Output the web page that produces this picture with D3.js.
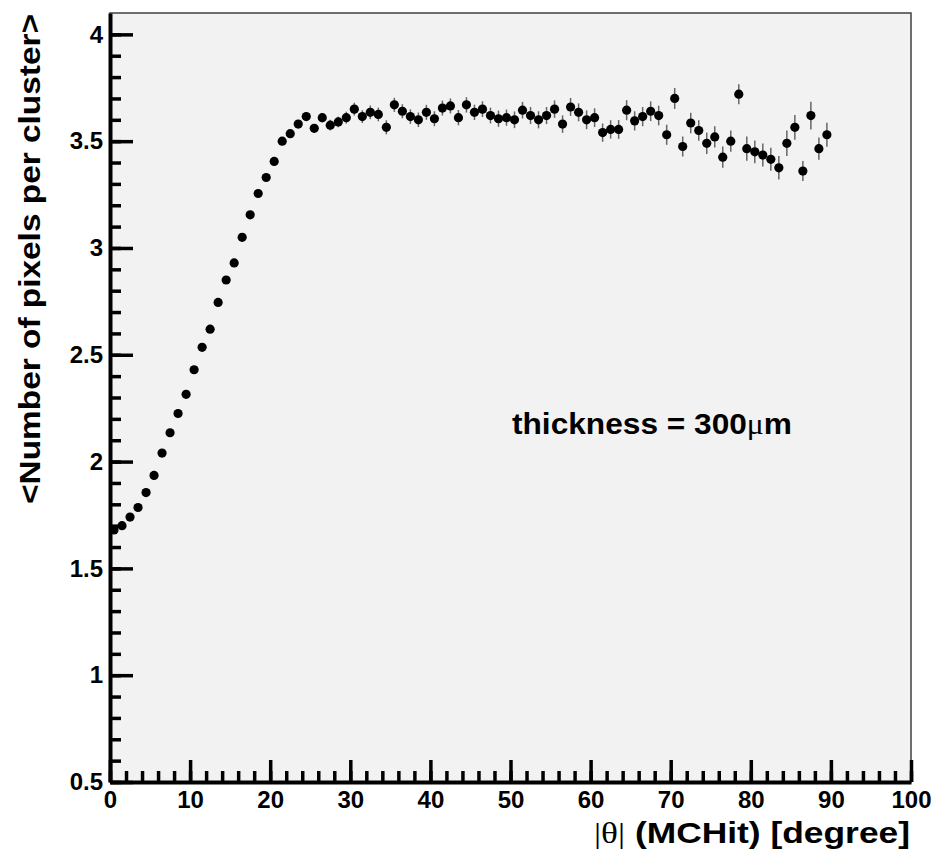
<!DOCTYPE html>
<html>
<head>
<meta charset="utf-8">
<script src="https://cdn.jsdelivr.net/npm/d3@7"></script>
<style>
body { margin: 0; background: #ffffff; }
#plot { width: 933px; height: 852px; }
</style>
</head>
<body>
<div id="plot"></div>
<script>
// bin centres of |theta| (degree)
var thetaBins = [0.5, 1.5, 2.5, 3.5, 4.5, 5.5, 6.5, 7.5, 8.5, 9.5,
	10.5, 11.5, 12.5, 13.5, 14.5, 15.5, 16.5, 17.5, 18.5, 19.5,
	20.5, 21.5, 22.5, 23.5, 24.5, 25.5, 26.5, 27.5, 28.5, 29.5,
	30.5, 31.5, 32.5, 33.5, 34.5, 35.5, 36.5, 37.5, 38.5, 39.5,
	40.5, 41.5, 42.5, 43.5, 44.5, 45.5, 46.5, 47.5, 48.5, 49.5,
	50.5, 51.5, 52.5, 53.5, 54.5, 55.5, 56.5, 57.5, 58.5, 59.5,
	60.5, 61.5, 62.5, 63.5, 64.5, 65.5, 66.5, 67.5, 68.5, 69.5,
	70.5, 71.5, 72.5, 73.5, 74.5, 75.5, 76.5, 77.5, 78.5, 79.5,
	80.5, 81.5, 82.5, 83.5, 84.5, 85.5, 86.5, 87.5, 88.5, 89.5];

// mean number of pixels per cluster
var meanPixels = [1.68, 1.70, 1.74, 1.785, 1.855, 1.935, 2.04, 2.135, 2.225, 2.315,
	2.43, 2.535, 2.62, 2.745, 2.85, 2.93, 3.05, 3.155, 3.255, 3.33,
	3.405, 3.50, 3.535, 3.58, 3.615, 3.56, 3.61, 3.575, 3.59, 3.61,
	3.65, 3.615, 3.635, 3.625, 3.565, 3.67, 3.64, 3.615, 3.60, 3.635,
	3.605, 3.655, 3.665, 3.61, 3.67, 3.635, 3.65, 3.62, 3.605, 3.61,
	3.60, 3.645, 3.62, 3.60, 3.62, 3.65, 3.58, 3.66, 3.635, 3.60,
	3.61, 3.54, 3.555, 3.555, 3.645, 3.595, 3.615, 3.64, 3.62, 3.53,
	3.70, 3.475, 3.585, 3.55, 3.49, 3.52, 3.425, 3.50, 3.72, 3.465,
	3.45, 3.435, 3.415, 3.375, 3.49, 3.565, 3.36, 3.62, 3.465, 3.53];

// error on the mean
var meanErrors = [0.008, 0.008, 0.008, 0.008, 0.008, 0.008, 0.008, 0.008, 0.008, 0.008,
	0.008, 0.008, 0.008, 0.008, 0.008, 0.008, 0.008, 0.008, 0.008, 0.01,
	0.01, 0.015, 0.015, 0.018, 0.02, 0.02, 0.022, 0.025, 0.025, 0.028,
	0.03, 0.03, 0.032, 0.032, 0.033, 0.033, 0.033, 0.034, 0.034, 0.035,
	0.035, 0.035, 0.035, 0.036, 0.036, 0.036, 0.037, 0.037, 0.038, 0.038,
	0.039, 0.039, 0.04, 0.04, 0.04, 0.041, 0.041, 0.042, 0.042, 0.044,
	0.044, 0.043, 0.043, 0.044, 0.047, 0.045, 0.045, 0.046, 0.046, 0.047,
	0.049, 0.047, 0.048, 0.048, 0.05, 0.05, 0.05, 0.05, 0.047, 0.057,
	0.053, 0.054, 0.054, 0.055, 0.06, 0.058, 0.047, 0.065, 0.052, 0.056];

var xTicks = [0, 10, 20, 30, 40, 50, 60, 70, 80, 90, 100];
var yTicks = [0.5, 1, 1.5, 2, 2.5, 3, 3.5, 4];

var width = 933, height = 852;
var frameLeft = 110, frameRight = 911, frameTop = 13, frameBottom = 782;

var svg = d3.select("#plot").append("svg")
	.attr("width", width)
	.attr("height", height)
	.style("font-family", "'Liberation Sans', Arial, Helvetica, sans-serif");

var x = d3.scaleLinear().domain([0, 100]).range([frameLeft, frameRight]);
var y = d3.scaleLinear().domain([0.5, 4.1]).range([frameBottom, frameTop]);

// frame
svg.append("rect")
	.attr("x", frameLeft)
	.attr("y", frameTop)
	.attr("width", frameRight - frameLeft)
	.attr("height", frameBottom - frameTop)
	.attr("fill", "#f2f2f2")
	.attr("stroke", "#404040")
	.attr("stroke-width", 1.5);

// minor ticks
var xMinor = d3.range(0, 101, 2);
var yMinor = d3.range(0.5, 4.1, 0.1);

svg.append("g")
	.attr("transform", "translate(0," + frameBottom + ")")
	.call(d3.axisBottom(x).tickValues(xMinor).tickSize(-11).tickSizeOuter(0).tickFormat(""))
	.call(function(g){ g.select(".domain").remove(); })
	.selectAll("line").attr("stroke", "#000").attr("stroke-width", 3.5);

svg.append("g")
	.attr("transform", "translate(" + frameLeft + ",0)")
	.call(d3.axisLeft(y).tickValues(yMinor).tickSize(-11).tickSizeOuter(0).tickFormat(""))
	.call(function(g){ g.select(".domain").remove(); })
	.selectAll("line").attr("stroke", "#000").attr("stroke-width", 3.5);

// major ticks and labels
var xAxis = svg.append("g")
	.attr("transform", "translate(0," + frameBottom + ")")
	.call(d3.axisBottom(x).tickValues(xTicks).tickSize(-22).tickSizeOuter(0).tickPadding(9));

var yAxis = svg.append("g")
	.attr("transform", "translate(" + frameLeft + ",0)")
	.call(d3.axisLeft(y).tickValues(yTicks).tickSize(-23).tickSizeOuter(0).tickPadding(7)
		.tickFormat(function(d){ return String(d); }));

[xAxis, yAxis].forEach(function(a){
	a.selectAll("line").attr("stroke", "#000").attr("stroke-width", 3.5);
	a.select(".domain").attr("stroke", "#000").attr("stroke-width", 4);
	a.selectAll("text")
		.attr("fill", "#000")
		.style("font-size", "24px")
		.style("font-weight", "bold")
		.style("font-family", "'Liberation Sans', Arial, sans-serif");
});

// data points with error bars
var pts = svg.append("g").attr("class", "points")
	.selectAll("g")
	.data(thetaBins.map(function(t, i){ return {t: t, v: meanPixels[i], e: meanErrors[i]}; }))
	.enter()
	.append("g");

pts.append("line")
	.attr("x1", function(d){ return x(d.t); })
	.attr("x2", function(d){ return x(d.t); })
	.attr("y1", function(d){ return y(d.v - d.e); })
	.attr("y2", function(d){ return y(d.v + d.e); })
	.attr("stroke", "#666")
	.attr("stroke-width", 1.5);

pts.append("circle")
	.attr("cx", function(d){ return x(d.t); })
	.attr("cy", function(d){ return y(d.v); })
	.attr("r", 4.6)
	.attr("fill", "#000");

// axis titles
var xTitle = svg.append("text")
	.attr("x", frameRight - 1)
	.attr("y", 843)
	.attr("text-anchor", "end")
	.style("font-size", "30px")
	.style("font-weight", "bold");
xTitle.append("tspan")
	.style("font-family", "'Liberation Serif', 'DejaVu Serif', serif")
	.style("font-weight", "normal")
	.text("|θ|");
xTitle.append("tspan").text(" (MCHit) [degree]");
xTitle.attr("textLength", 316).attr("lengthAdjust", "spacingAndGlyphs");

svg.append("text")
	.attr("transform", "translate(40," + (frameTop + 1) + ") rotate(-90)")
	.attr("text-anchor", "end")
	.attr("textLength", 490)
	.attr("lengthAdjust", "spacingAndGlyphs")
	.style("font-size", "29px")
	.style("font-weight", "bold")
	.text("<Number of pixels per cluster>");

// annotation
var note = svg.append("text")
	.attr("x", 512)
	.attr("y", 434)
	.style("font-size", "29px")
	.style("font-weight", "bold");
note.append("tspan").text("thickness = 300");
note.append("tspan")
	.style("font-family", "'Liberation Serif', 'DejaVu Serif', serif")
	.style("font-weight", "normal")
	.text("μ");
note.append("tspan").text("m");
note.attr("textLength", 280).attr("lengthAdjust", "spacingAndGlyphs");
</script>
</body>
</html>
